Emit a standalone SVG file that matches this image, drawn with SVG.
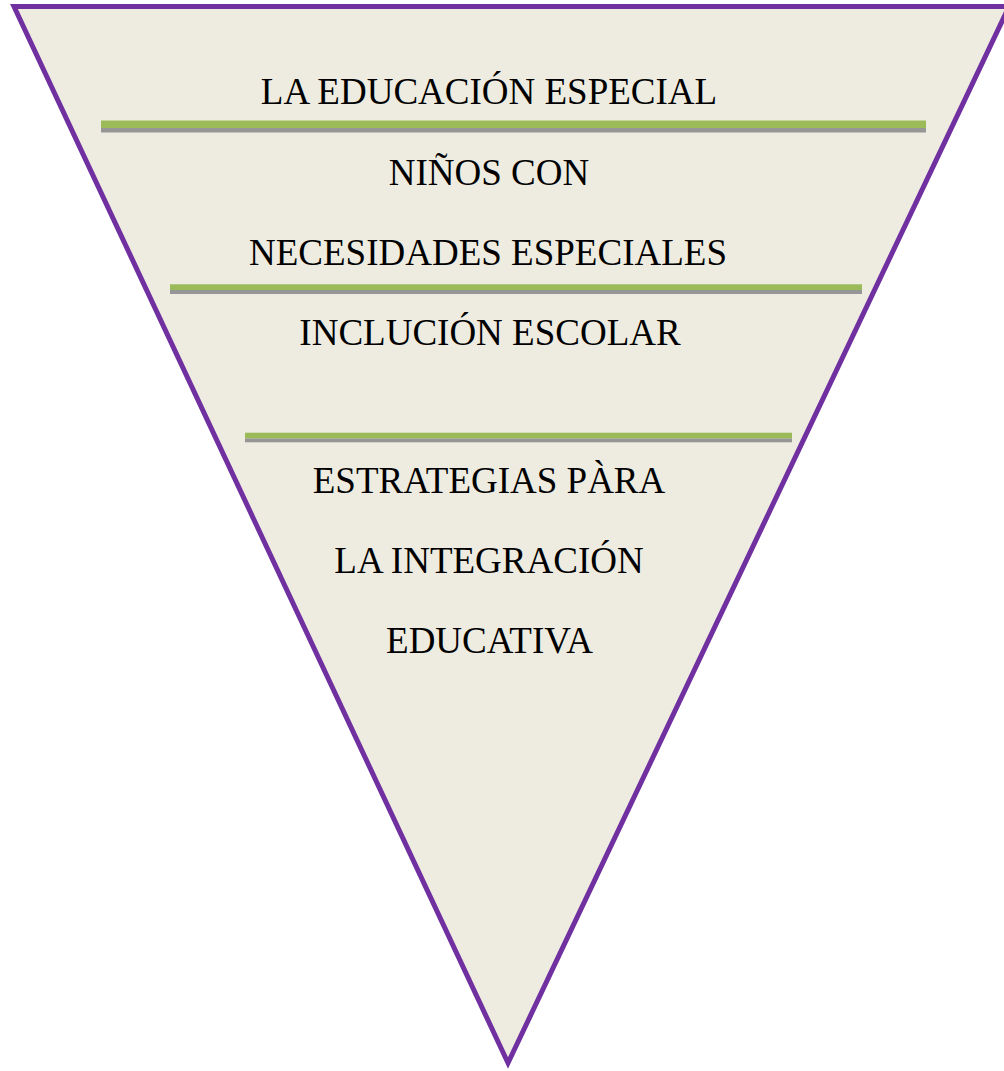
<svg xmlns="http://www.w3.org/2000/svg" width="1004" height="1071" viewBox="0 0 1004 1071">
  <style>
    .t { font-family: "Liberation Serif", "Times New Roman", serif; font-size: 37px; fill: #000; text-anchor: middle; }
    .g { fill: #9BBB59; }
    .s { fill: #969696; }
  </style>
  <rect x="0" y="0" width="1004" height="1071" fill="#FFFFFF"/>
  <g id="triangle">
    <polygon points="14,6.5 1009,6.5 508,1063" fill="#EEECE1" stroke="#7030A0" stroke-width="5" stroke-linejoin="miter" stroke-miterlimit="10"/>
  </g>
  <g id="dividers">
    <g id="divider1">
      <rect class="s" x="101" y="128" width="825" height="4.5"/>
      <rect class="g" x="101" y="120.5" width="825" height="7.5"/>
    </g>
    <g id="divider2">
      <rect class="s" x="170" y="290" width="692" height="4"/>
      <rect class="g" x="170" y="284.3" width="692" height="5.7"/>
    </g>
    <g id="divider3">
      <rect class="s" x="245" y="438.3" width="547" height="4"/>
      <rect class="g" x="245" y="432.7" width="547" height="5.6"/>
    </g>
  </g>
  <g id="level1">
    <text class="t" x="489" y="104">LA EDUCACIÓN ESPECIAL</text>
  </g>
  <g id="level2">
    <text class="t" x="489" y="185">NIÑOS CON</text>
    <text class="t" x="488" y="265">NECESIDADES ESPECIALES</text>
  </g>
  <g id="level3">
    <text class="t" x="490" y="345">INCLUCIÓN ESCOLAR</text>
  </g>
  <g id="level4">
    <text class="t" x="489" y="493">ESTRATEGIAS PÀRA</text>
    <text class="t" x="489" y="573">LA INTEGRACIÓN</text>
    <text class="t" x="489.5" y="653">EDUCATIVA</text>
  </g>
</svg>
